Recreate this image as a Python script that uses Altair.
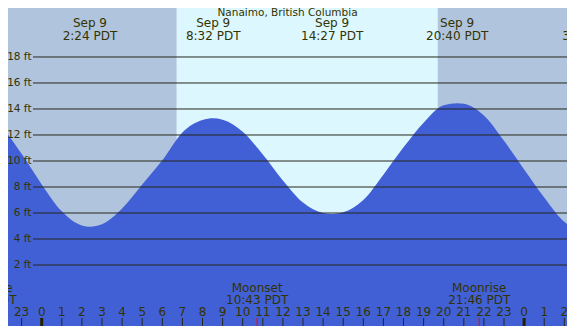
import altair as alt
import pandas as pd

# ---- data ----
# tide curve (hours relative to Sep 9 00:00 PDT, height in ft)
hours = [-3, -2, -1, 0, 1, 2, 2.4, 3, 4, 5, 6, 7, 8, 8.53, 9, 10, 11, 12, 13, 14,
         14.45, 15, 16, 17, 18, 19, 20, 20.67, 21, 22, 23, 24, 25, 26, 27, 27.25]
heights = [13.2, 12.55, 10.55, 8.2, 6.13, 5.04, 4.95, 5.14, 6.35, 8.2, 10.05, 12.2,
           13.15, 13.28, 13.18, 12.25, 10.5, 8.5, 6.8, 6.0, 5.92, 6.05, 7.0, 8.95,
           11.05, 12.95, 14.28, 14.44, 14.4, 13.5, 11.55, 9.35, 7.2, 5.33, 4.55, 4.52]

# day / night shading
shade_start = [-5, 6.72, 19.70]
shade_end = [6.72, 19.70, 30]
shade_kind = ["night", "day", "night"]

# high / low tide labels
extreme_hours = [2.4, 8.533, 14.45, 20.667, 27.25]
extreme_dates = ["Sep 9", "Sep 9", "Sep 9", "Sep 9", "Sep 10"]
extreme_times = ["2:24 PDT", "8:32 PDT", "14:27 PDT", "20:40 PDT", "3:15 PDT"]

# moon events
moon_hours = [-2.8, 10.717, 21.767]
moon_names = ["Moonrise", "Moonset", "Moonrise"]
moon_times = ["21:12 PDT", "10:43 PDT", "21:46 PDT"]

# axes
y_ticks = [2, 4, 6, 8, 10, 12, 14, 16, 18]
hour_ticks = list(range(-2, 27))
midnights = [0, 24]
title_text = "Nanaimo, British Columbia"

# ---- styling ----
W, H = 559, 318
X0, X1 = -1.6766, 26.134
Y0, Y1 = -2.692, 21.769
NIGHT, DAY, BLUE = "#b0c4de", "#ddf7ff", "#4160d6"
INK = "#333300"
GRID = "#26261a"
FONT = "DejaVu Sans"

xs = alt.Scale(domain=[X0, X1], nice=False, zero=False)
ys = alt.Scale(domain=[Y0, Y1], nice=False, zero=False)

tide = pd.DataFrame({"hour": hours, "height": heights})
shade = pd.DataFrame({"start": shade_start, "end": shade_end, "kind": shade_kind})
ext = pd.DataFrame({"hour": extreme_hours, "date": extreme_dates, "time": extreme_times})
moon = pd.DataFrame({"hour": moon_hours, "name": moon_names, "time": moon_times})
yt = pd.DataFrame({"ft": y_ticks, "label": [f"{v} ft" for v in y_ticks]})
ht = pd.DataFrame({"hour": hour_ticks, "label": [str(h % 24) for h in hour_ticks]})
mid = pd.DataFrame({"hour": midnights})
ttl = pd.DataFrame({"t": [title_text]})

bg = alt.Chart(shade).mark_rect(clip=True).encode(
    x=alt.X("start:Q", scale=xs, axis=None),
    x2="end:Q",
    y=alt.value(0),
    y2=alt.value(H),
    color=alt.Color("kind:N", scale=alt.Scale(domain=["night", "day"], range=[NIGHT, DAY]), legend=None),
)

area = alt.Chart(tide).mark_area(clip=True, interpolate="monotone", color=BLUE).encode(
    x=alt.X("hour:Q", scale=xs, axis=None),
    y=alt.Y("height:Q", scale=ys, axis=None),
    y2=alt.datum(Y0),
)

grid = alt.Chart(yt).mark_rule(color=GRID, strokeWidth=1).encode(
    y=alt.Y("ft:Q", scale=ys, axis=None),
    x=alt.value(25),
    x2=alt.value(W),
)

ylab = alt.Chart(yt).mark_text(align="right", baseline="middle", font=FONT, fontSize=10.5, color=INK).encode(
    y=alt.Y("ft:Q", scale=ys, axis=None),
    x=alt.value(23.5),
    text="label:N",
)

hticks = alt.Chart(ht).mark_rule(color=GRID, strokeWidth=1).encode(
    x=alt.X("hour:Q", scale=xs, axis=None),
    y=alt.value(310),
    y2=alt.value(H),
)

mticks = alt.Chart(mid).mark_rule(color="#222200", strokeWidth=3).encode(
    x=alt.X("hour:Q", scale=xs, axis=None),
    y=alt.value(310),
    y2=alt.value(H),
)

hlab = alt.Chart(ht).mark_text(align="center", baseline="alphabetic", font=FONT, fontSize=12, color=INK).encode(
    x=alt.X("hour:Q", scale=xs, axis=None),
    y=alt.value(308),
    text="label:N",
)

moontick = alt.Chart(moon).mark_rule(color="#ff0000", strokeWidth=1).encode(
    x=alt.X("hour:Q", scale=xs, axis=None),
    y=alt.value(310),
    y2=alt.value(H),
)

moon1 = alt.Chart(moon).mark_text(align="center", baseline="alphabetic", font=FONT, fontSize=12, color=INK).encode(
    x=alt.X("hour:Q", scale=xs, axis=None),
    y=alt.value(283.5),
    text="name:N",
)
moon2 = alt.Chart(moon).mark_text(align="center", baseline="alphabetic", font=FONT, fontSize=12, color=INK).encode(
    x=alt.X("hour:Q", scale=xs, axis=None),
    y=alt.value(296),
    text="time:N",
)

ext1 = alt.Chart(ext).mark_text(align="center", baseline="alphabetic", font=FONT, fontSize=12, color=INK).encode(
    x=alt.X("hour:Q", scale=xs, axis=None),
    y=alt.value(19),
    text="date:N",
)
ext2 = alt.Chart(ext).mark_text(align="center", baseline="alphabetic", font=FONT, fontSize=12, color=INK).encode(
    x=alt.X("hour:Q", scale=xs, axis=None),
    y=alt.value(31.5),
    text="time:N",
)

title = alt.Chart(ttl).mark_text(align="center", baseline="alphabetic", font=FONT, fontSize=10.5, color=INK).encode(
    x=alt.value(279.5),
    y=alt.value(8),
    text="t:N",
)

chart = alt.layer(
    bg, area, grid, ylab, hticks, mticks, moontick, hlab, moon1, moon2, ext1, ext2, title
).properties(
    width=W,
    height=H,
    padding=0,
    autosize=alt.AutoSizeParams(type="none"),
).configure_view(stroke=None)

chart.save("out.html", embed_options={"renderer": "svg", "actions": False})
